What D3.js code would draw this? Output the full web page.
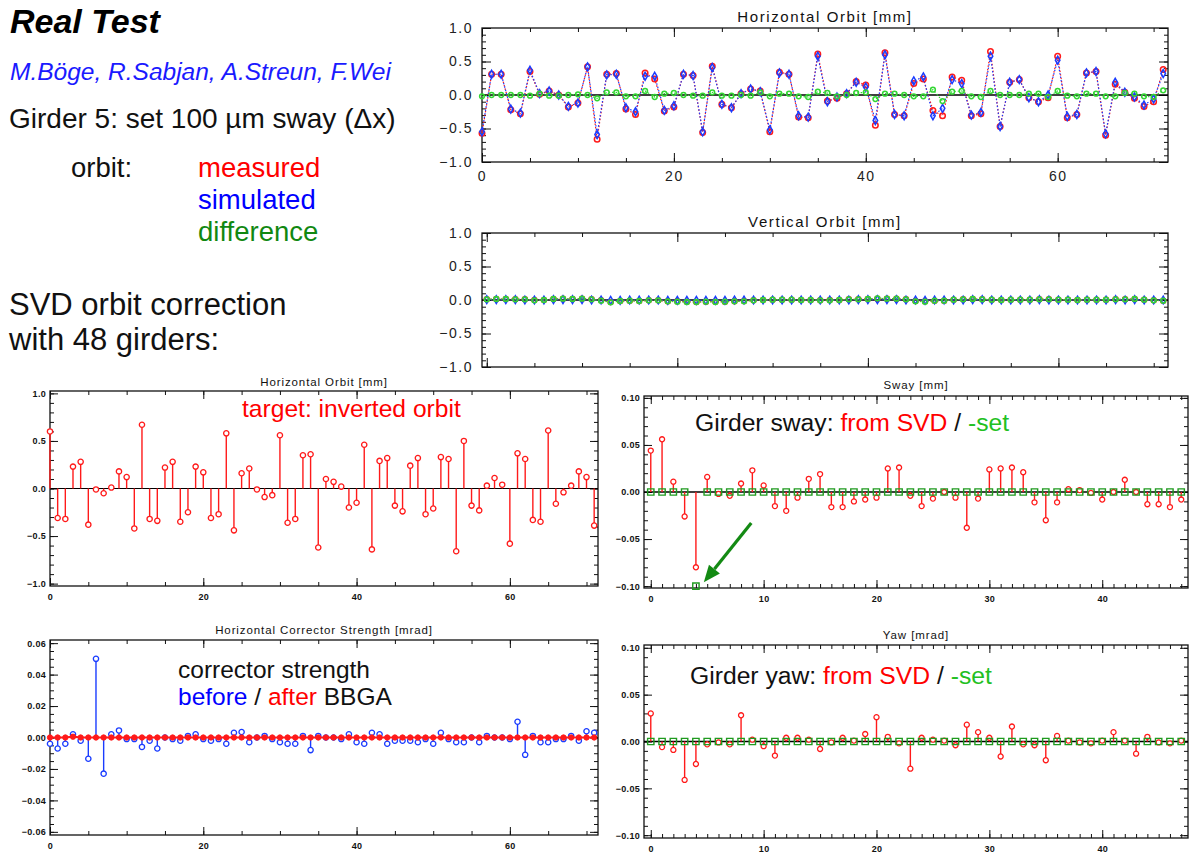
<!DOCTYPE html>
<html>
<head>
<meta charset="utf-8">
<script src="https://cdn.jsdelivr.net/npm/d3@7"></script>
<style>
body { margin: 0; background: #fff; }
svg text { font-family: "Liberation Sans", Arial, sans-serif; }
</style>
</head>
<body>
<div id="chart"></div>
<script>
// ---- data ----
var bpmIndex = d3.range(72);
var girderIndex = d3.range(48);

var hOrbitMeasured = [-0.57,0.31,0.31,-0.22,-0.28,0.35,0.01,0.06,0.00,-0.18,
    -0.12,0.42,-0.66,0.31,0.32,-0.21,-0.29,0.33,0.24,-0.24,
    -0.18,0.31,0.29,-0.56,0.43,-0.14,-0.19,0.02,0.09,0.06,
    -0.55,0.34,0.31,-0.33,-0.34,0.61,-0.09,-0.05,0.02,0.20,
    0.15,-0.45,0.63,-0.29,-0.31,0.17,0.24,-0.23,-0.31,0.27,
    0.22,-0.31,-0.28,0.65,-0.47,0.19,0.23,-0.04,-0.10,-0.04,
    0.58,-0.34,-0.29,0.33,0.35,-0.60,0.16,0.04,-0.05,-0.17,
    -0.10,0.38];
var hOrbitSimulated = [-0.55,0.31,0.31,-0.21,-0.27,0.37,0.02,0.06,0.00,-0.17,
    -0.12,0.42,-0.59,0.30,0.31,-0.19,-0.25,0.28,0.28,-0.23,
    -0.16,0.31,0.29,-0.55,0.41,-0.14,-0.19,0.02,0.09,0.05,
    -0.52,0.33,0.31,-0.31,-0.33,0.58,-0.10,-0.03,0.02,0.19,
    0.12,-0.38,0.60,-0.29,-0.31,0.21,0.27,-0.31,-0.20,0.23,
    0.17,-0.30,-0.26,0.58,-0.47,0.19,0.23,-0.04,-0.10,0.00,
    0.52,-0.32,-0.29,0.33,0.35,-0.58,0.19,0.04,-0.03,-0.15,
    -0.06,0.32];
var hOrbitDifference = [-0.02,0.00,0.00,0.00,0.00,-0.01,0.02,-0.01,-0.01,0.00,
    0.01,0.00,-0.05,0.04,0.04,-0.02,-0.02,0.06,-0.03,0.02,
    0.03,0.00,-0.01,-0.01,0.04,-0.01,-0.01,0.00,-0.01,0.04,
    -0.02,0.02,0.02,-0.02,-0.03,0.05,0.03,-0.02,0.00,0.03,
    0.04,-0.06,0.02,0.02,0.00,-0.02,-0.02,0.08,-0.09,0.05,
    0.06,-0.02,-0.03,0.06,0.00,0.00,0.00,0.02,0.02,-0.03,
    0.06,-0.01,-0.02,0.02,0.02,-0.02,-0.02,0.03,0.02,-0.02,
    -0.03,0.07];

var vOrbitMeasured = [0.01,0.015,0.015,0.01,0.01,0.0,0.0,0.015,0.02,0.015,
    0.02,0.01,-0.005,-0.03,-0.015,-0.01,-0.015,-0.005,-0.005,-0.02,
    -0.02,-0.025,-0.03,-0.025,-0.025,-0.025,-0.02,-0.015,-0.005,0.0,
    0.005,0.005,0.005,0.0,0.0,-0.005,0.0,0.0,0.01,0.01,
    0.015,0.02,0.02,0.02,0.01,-0.015,-0.02,-0.01,-0.01,0.005,
    0.01,0.015,0.01,0.005,0.0,0.005,0.005,0.005,0.01,0.01,
    0.005,0.005,0.0,0.005,0.005,0.005,0.01,0.01,0.015,0.005,
    -0.005,-0.01];
var vOrbitSimulated = [0.005,0.005,0.005,0.005,0.0,0.0,0.0,0.005,0.005,0.005,
    0.005,0.0,0.0,-0.005,-0.005,0.0,0.0,0.0,0.0,-0.005,
    -0.005,-0.005,-0.005,-0.005,-0.005,-0.005,0.0,0.0,0.0,0.0,
    0.0,0.0,0.0,0.0,0.0,0.0,0.0,0.0,0.0,0.005,
    0.005,0.005,0.005,0.005,0.0,0.0,-0.005,0.0,0.0,0.0,
    0.0,0.005,0.005,0.0,0.0,0.0,0.0,0.0,0.005,0.0,
    0.0,0.0,0.0,0.0,0.0,0.0,0.005,0.0,0.005,0.0,
    0.0,0.0];
var vOrbitDifference = [0.01,0.015,0.015,0.01,0.01,-0.005,0.0,0.015,0.02,0.015,
    0.02,0.01,-0.01,-0.035,-0.015,-0.01,-0.015,-0.005,-0.005,-0.02,
    -0.025,-0.03,-0.03,-0.025,-0.03,-0.025,-0.02,-0.02,-0.005,0.0,
    0.005,0.005,0.005,0.0,0.0,-0.005,-0.005,0.0,0.01,0.01,
    0.015,0.025,0.02,0.02,0.01,-0.02,-0.025,-0.01,-0.01,0.005,
    0.01,0.015,0.01,0.005,0.0,0.005,0.005,0.005,0.01,0.01,
    0.005,0.005,0.0,0.005,0.005,0.005,0.01,0.01,0.015,0.005,
    -0.005,-0.01];

var targetOrbit = [0.60,-0.31,-0.32,0.23,0.28,-0.38,-0.01,-0.05,0.01,0.18,
    0.12,-0.42,0.67,-0.32,-0.34,0.22,0.28,-0.35,-0.25,0.23,
    0.17,-0.31,-0.27,0.58,-0.44,0.16,0.21,-0.01,-0.09,-0.07,
    0.56,-0.36,-0.32,0.35,0.36,-0.62,0.10,0.07,0.02,-0.20,
    -0.15,0.46,-0.64,0.29,0.32,-0.18,-0.24,0.24,0.32,-0.27,
    -0.21,0.33,0.31,-0.66,0.50,-0.18,-0.23,0.03,0.11,0.04,
    -0.58,0.37,0.31,-0.33,-0.35,0.61,-0.16,-0.04,0.03,0.18,
    0.12,-0.39];

var swaySVD = [0.044,0.056,0.011,-0.026,-0.080,0.016,-0.002,-0.004,0.009,0.023,
    0.007,-0.015,-0.020,-0.006,0.014,0.019,-0.016,-0.016,-0.010,-0.008,
    -0.006,0.025,0.026,-0.004,-0.015,-0.007,0.000,-0.006,-0.038,-0.007,
    0.024,0.025,0.026,0.021,-0.011,-0.030,-0.011,0.003,0.002,-0.001,
    -0.008,0.000,0.013,0.000,-0.013,-0.013,-0.016,-0.008];
var swaySet = [0,0,0,0,-0.1,0,0,0,0,0, 0,0,0,0,0,0,0,0,0,0,
    0,0,0,0,0,0,0,0,0,0, 0,0,0,0,0,0,0,0,0,0, 0,0,0,0,0,0,0,0];

var corrBefore = [-0.004,-0.007,-0.004,0.002,-0.002,-0.0135,0.050,-0.023,0.002,0.0045,
    -0.001,-0.001,-0.006,-0.002,-0.007,0.000,-0.001,-0.002,0.001,0.002,
    -0.001,-0.002,-0.001,-0.004,0.003,0.0035,-0.003,0.000,0.001,-0.001,
    -0.003,-0.004,-0.004,0.001,-0.008,0.001,0.000,0.000,-0.001,0.002,
    -0.003,-0.004,0.003,0.002,-0.004,-0.002,-0.002,-0.002,-0.003,-0.001,
    -0.004,0.003,-0.001,-0.003,-0.003,0.000,-0.003,0.001,0.000,0.000,
    -0.001,0.010,-0.011,0.001,-0.003,-0.003,-0.001,-0.001,0.001,-0.002,
    0.004,0.003];
var corrAfter = [0,0,0,0.0005,0,0,0,0,0,0, 0,0,0,0,0,0,0,0,0,0,
    0,0,0,0,0,0,0,0,0,0, 0,0,0,0,0,0,0,0,0,0,
    0,0,0,0,0,0,0,0,0,0, 0,0,0,0,0,0,0,0,0,0,
    0,0,0,0,0,0,0,0,0,0, 0,0];

var yawSVD = [0.030,-0.006,-0.009,-0.041,-0.024,-0.003,-0.001,-0.003,0.028,0.002,
    -0.005,-0.015,0.004,0.004,0.002,-0.008,-0.001,0.004,0.001,0.008,
    0.026,0.005,-0.002,-0.029,0.004,0.002,0.001,-0.004,0.018,0.010,
    0.004,-0.016,0.016,-0.003,-0.004,-0.020,0.006,0.001,-0.001,-0.002,
    0.001,0.010,0.001,-0.013,0.005,-0.001,-0.002,0.001];
var yawSet = [0,0,0,0,0,0,0,0,0,0, 0,0,0,0,0,0,0,0,0,0,
    0,0,0,0,0,0,0,0,0,0, 0,0,0,0,0,0,0,0,0,0, 0,0,0,0,0,0,0,0];

// arrow in the sway plot, data coordinates [girder, mm]
var arrowFrom = [8.9, -0.033];
var arrowTo = [4.7, -0.096];

// tick values
var orbitTicksY = [-1, -0.5, 0, 0.5, 1];
var bpmTicksX = [0, 20, 40, 60];
var girderTicksX = [0, 10, 20, 30, 40];
var girderTicksY = [-0.1, -0.05, 0, 0.05, 0.1];
var corrTicksY = [-0.06, -0.04, -0.02, 0, 0.02, 0.04, 0.06];

var RED = "#ff1a1a", BLUE = "#1a3cff", LGREEN = "#33d633", DGREEN = "#1f9a1f";

var svg = d3.select("#chart").append("svg")
    .attr("width", 1197).attr("height", 852)
    .attr("xmlns", "http://www.w3.org/2000/svg");

function noLabel(){ return ""; }

// IDL style box with inward ticks on all four sides
function frame(p){
    var g = svg.append("g");
    var x = d3.scaleLinear().domain(p.xDomain).range([p.left, p.right]);
    var y = d3.scaleLinear().domain(p.yDomain).range([p.bottom, p.top]);

    function ax(gen, tr, major, minor, fmt, pad){
        var a = g.append("g").attr("transform", tr)
            .call(gen.tickValues(minor).tickSize(-p.minorLen).tickSizeOuter(0).tickFormat(noLabel));
        var b = g.append("g").attr("transform", tr)
            .call(gen.tickValues(major).tickSize(-p.majorLen).tickSizeOuter(0).tickPadding(pad).tickFormat(fmt));
        [a, b].forEach(function(s){
            s.select(".domain").remove();
            s.selectAll("line").attr("stroke", "#111").attr("stroke-width", 1);
            s.attr("font-family", p.font).attr("font-size", p.fontSize);
        });
        b.selectAll("text").attr("fill", p.labelColor)
            .attr("font-weight", p.fontWeight)
            .attr("letter-spacing", p.spacing);
    }
    ax(d3.axisBottom(x), "translate(0," + p.bottom + ")", p.xMajor, p.xMinor,
        p.xLabels ? d3.format("d") : noLabel, p.xPad);
    ax(d3.axisTop(x), "translate(0," + p.top + ")", p.xMajor, p.xMinor, noLabel, 0);
    ax(d3.axisLeft(y), "translate(" + p.left + ",0)", p.yMajor, p.yMinor, d3.format(p.yFormat), p.yPad);
    ax(d3.axisRight(y), "translate(" + p.right + ",0)", p.yMajor, p.yMinor, noLabel, 0);

    g.append("rect")
        .attr("x", p.left).attr("y", p.top)
        .attr("width", p.right - p.left).attr("height", p.bottom - p.top)
        .attr("fill", "none").attr("stroke", "#111").attr("stroke-width", 1.3);

    g.append("text")
        .attr("x", (p.left + p.right) / 2).attr("y", p.titleY)
        .attr("text-anchor", "middle")
        .attr("font-family", p.font)
        .attr("font-size", p.titleSize)
        .attr("letter-spacing", p.titleSpacing)
        .attr("fill", "#111")
        .text(p.title);
    return {g: g, x: x, y: y};
}

function zeroLine(f, width){
    var d = f.x.domain();
    f.g.append("line")
        .attr("x1", f.x(d[0])).attr("x2", f.x(d[1]))
        .attr("y1", f.y(0)).attr("y2", f.y(0))
        .attr("stroke", "#000").attr("stroke-width", width);
}

function dottedLine(f, vals, color){
    f.g.append("path").datum(vals)
        .attr("d", d3.line().x(function(d, i){ return f.x(i); }).y(function(d){ return f.y(d); }))
        .attr("fill", "none").attr("stroke", color)
        .attr("stroke-width", 1.2).attr("stroke-dasharray", "1.5,2");
}

function stems(f, vals, color){
    f.g.append("g").selectAll("line").data(vals).join("line")
        .attr("x1", function(d, i){ return f.x(i); })
        .attr("x2", function(d, i){ return f.x(i); })
        .attr("y1", f.y(0))
        .attr("y2", function(d){ return f.y(d); })
        .attr("stroke", color).attr("stroke-width", 1.4);
}

function markers(f, vals, type, size, color, fill, sw){
    f.g.append("g").selectAll("path").data(vals).join("path")
        .attr("transform", function(d, i){ return "translate(" + f.x(i) + "," + f.y(d) + ")"; })
        .attr("d", d3.symbol().type(type).size(size))
        .attr("fill", fill).attr("stroke", color).attr("stroke-width", sw);
}

// ---- top right: horizontal / vertical orbit ----
var bigStyle = {
    font: "DejaVu Sans", fontSize: 14, titleSize: 15, labelColor: "#222",
    fontWeight: "normal", spacing: 1.5, titleSpacing: 1.6, majorLen: 9, minorLen: 4,
    yFormat: ".1f", yPad: 9, xPad: 9
};

var hTop = frame(Object.assign({}, bigStyle, {
    left: 482, right: 1168, top: 28, bottom: 162,
    xDomain: [0, 71.5], yDomain: [-1, 1],
    xMajor: bpmTicksX, xMinor: d3.range(0, 72, 5), xLabels: true,
    yMajor: orbitTicksY, yMinor: d3.range(-1, 1.001, 0.1),
    title: "Horizontal Orbit [mm]", titleY: 22
}));
zeroLine(hTop, 1.3);
dottedLine(hTop, hOrbitMeasured, RED);
dottedLine(hTop, hOrbitSimulated, BLUE);
dottedLine(hTop, hOrbitDifference, LGREEN);
markers(hTop, hOrbitMeasured, d3.symbolCircle, 24, RED, "none", 1.5);
markers(hTop, hOrbitSimulated, d3.symbolDiamond, 18, BLUE, "none", 1.5);
markers(hTop, hOrbitDifference, d3.symbolCircle, 18, LGREEN, "none", 1.5);

var vTop = frame(Object.assign({}, bigStyle, {
    left: 482, right: 1168, top: 233, bottom: 367,
    xDomain: [-0.5, 71.5], yDomain: [-1, 1],
    xMajor: bpmTicksX, xMinor: d3.range(0, 72, 5), xLabels: false,
    yMajor: orbitTicksY, yMinor: d3.range(-1, 1.001, 0.1),
    title: "Vertical Orbit [mm]", titleY: 227
}));
zeroLine(vTop, 1.3);
dottedLine(vTop, vOrbitMeasured, RED);
dottedLine(vTop, vOrbitSimulated, BLUE);
dottedLine(vTop, vOrbitDifference, LGREEN);
markers(vTop, vOrbitMeasured, d3.symbolCircle, 20, RED, "none", 1.4);
markers(vTop, vOrbitSimulated, d3.symbolDiamond, 18, BLUE, "none", 1.4);
markers(vTop, vOrbitDifference, d3.symbolCircle, 18, LGREEN, "none", 1.6);

// ---- small panels ----
var smallStyle = {
    font: "Liberation Sans", fontSize: 9, titleSize: 11.5, labelColor: "#111",
    fontWeight: "bold", spacing: 0.3, titleSpacing: 0.9, majorLen: 8, minorLen: 4,
    yPad: 4, xPad: 8, xLabels: true
};

var target = frame(Object.assign({}, smallStyle, {
    left: 50, right: 598, top: 391, bottom: 586,
    xDomain: [0, 71.5], yDomain: [-1.025, 1.025],
    xMajor: bpmTicksX, xMinor: d3.range(0, 72, 5),
    yMajor: orbitTicksY, yMinor: d3.range(-1, 1.001, 0.1), yFormat: ".1f",
    title: "Horizontal Orbit [mm]", titleY: 386
}));
zeroLine(target, 1.2);
stems(target, targetOrbit, RED);
markers(target, targetOrbit, d3.symbolCircle, 22, RED, "#fff", 1.3);

var sway = frame(Object.assign({}, smallStyle, {
    left: 644, right: 1188, top: 396, bottom: 588,
    xDomain: [-0.6, 47.6], yDomain: [-0.102, 0.102],
    xMajor: girderTicksX, xMinor: d3.range(0, 48, 1),
    yMajor: girderTicksY, yMinor: d3.range(-0.1, 0.1001, 0.01), yFormat: ".2f",
    title: "Sway [mm]", titleY: 389
}));
zeroLine(sway, 1.3);
stems(sway, swaySVD, RED);
markers(sway, swaySVD, d3.symbolCircle, 20, RED, "#fff", 1.3);
markers(sway, swaySet, d3.symbolSquare, 40, DGREEN, "none", 1.4);

var corr = frame(Object.assign({}, smallStyle, {
    left: 50, right: 598, top: 640, bottom: 835,
    xDomain: [0, 71.5], yDomain: [-0.062, 0.062],
    xMajor: bpmTicksX, xMinor: d3.range(0, 72, 5),
    yMajor: corrTicksY, yMinor: d3.range(-0.06, 0.0601, 0.005), yFormat: ".2f",
    title: "Horizontal Corrector Strength [mrad]", titleY: 634
}));
zeroLine(corr, 1.2);
stems(corr, corrBefore, BLUE);
markers(corr, corrBefore, d3.symbolCircle, 22, BLUE, "#fff", 1.3);
corr.g.append("path").datum(corrAfter)
    .attr("d", d3.line().x(function(d, i){ return corr.x(i); }).y(function(d){ return corr.y(d); }))
    .attr("fill", "none").attr("stroke", RED).attr("stroke-width", 2.2);
markers(corr, corrAfter, d3.symbolCircle, 22, RED, RED, 1);

var yaw = frame(Object.assign({}, smallStyle, {
    left: 644, right: 1188, top: 645, bottom: 838,
    xDomain: [-0.6, 47.6], yDomain: [-0.103, 0.103],
    xMajor: girderTicksX, xMinor: d3.range(0, 48, 1),
    yMajor: girderTicksY, yMinor: d3.range(-0.1, 0.1001, 0.01), yFormat: ".2f",
    title: "Yaw [mrad]", titleY: 639
}));
zeroLine(yaw, 1.3);
stems(yaw, yawSVD, RED);
markers(yaw, yawSVD, d3.symbolCircle, 20, RED, "#fff", 1.3);
markers(yaw, yawSet, d3.symbolSquare, 40, DGREEN, "none", 1.4);

// arrow pointing at the set girder
(function(){
    var x1 = sway.x(arrowFrom[0]), y1 = sway.y(arrowFrom[1]);
    var x2 = sway.x(arrowTo[0]), y2 = sway.y(arrowTo[1]);
    var a = Math.atan2(y2 - y1, x2 - x1), len = 17, half = 7;
    var bx = x2 - len * Math.cos(a), by = y2 - len * Math.sin(a);
    sway.g.append("line")
        .attr("x1", x1).attr("y1", y1).attr("x2", bx).attr("y2", by)
        .attr("stroke", "#138a13").attr("stroke-width", 3.2);
    sway.g.append("path")
        .attr("d", "M" + x2 + "," + y2 +
            "L" + (bx + half * Math.sin(a)) + "," + (by - half * Math.cos(a)) +
            "L" + (bx - half * Math.sin(a)) + "," + (by + half * Math.cos(a)) + "Z")
        .attr("fill", "#138a13");
})();

// ---- annotations ----
function label(x, y, size, parts, extra){
    var t = svg.append("text").attr("x", x).attr("y", y).attr("font-size", size);
    if (extra) { Object.keys(extra).forEach(function(k){ t.attr(k, extra[k]); }); }
    parts.forEach(function(p){
        t.append("tspan").attr("fill", p[1]).text(p[0]);
    });
    return t;
}

label(10, 33, 34, [["Real Test", "#000"]], {"font-weight": "bold", "font-style": "italic"});
label(10, 80, 24.5, [["M.Böge, R.Sabjan, A.Streun, F.Wei", "#1a1aff"]], {"font-style": "italic"});
label(9, 128, 28, [["Girder 5: set 100 µm sway (Δx)", "#111"]]);
label(71, 177, 27.5, [["orbit:", "#111"]]);
label(198, 177, 27.5, [["measured", "#ff0000"]]);
label(198, 209, 27.5, [["simulated", "#0000ff"]]);
label(198, 241, 27.5, [["difference", "#118811"]]);
label(9, 315, 31, [["SVD orbit correction", "#111"]]);
label(9, 350, 31, [["with 48 girders:", "#111"]]);

label(242, 417, 24.6, [["target: inverted orbit", "#ff0000"]]);
label(695, 431, 24.7, [["Girder sway: ", "#111"], ["from SVD", "#ff0000"], [" / ", "#111"], ["-set", "#22c022"]]);
label(178, 678, 24.5, [["corrector strength", "#111"]]);
label(178, 705, 24.5, [["before", "#0000ff"], [" / ", "#111"], ["after", "#ff0000"], [" BBGA", "#111"]]);
label(690, 684, 24.7, [["Girder yaw: ", "#111"], ["from SVD", "#ff0000"], [" / ", "#111"], ["-set", "#22c022"]]);
</script>
</body>
</html>
